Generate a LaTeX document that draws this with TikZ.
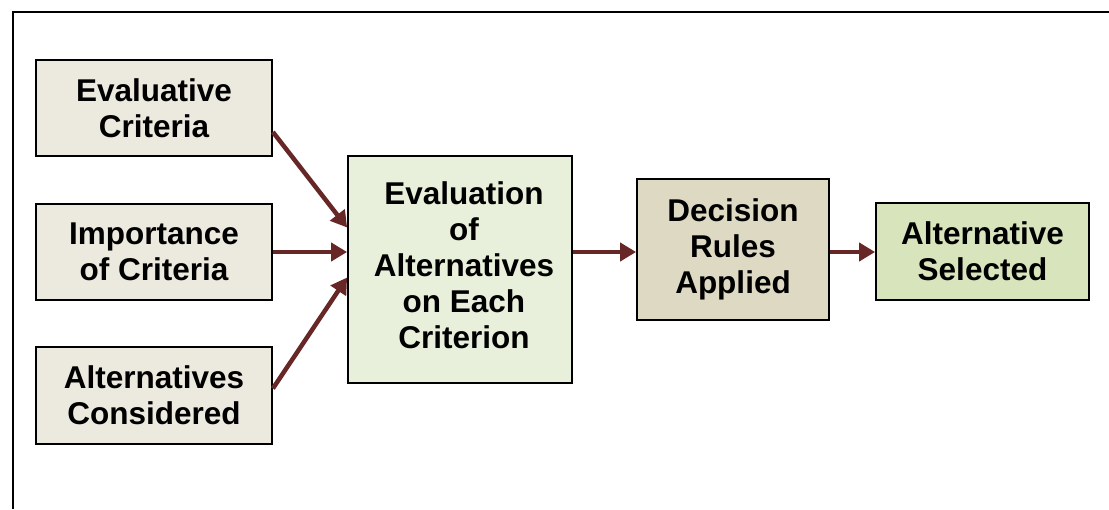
\documentclass[tikz,border=0pt]{standalone}
\usepackage{fontspec}
\setmainfont{Liberation Sans}
\usetikzlibrary{arrows.meta}
\definecolor{inputfill}{HTML}{ECE9DF}
\definecolor{evalfill}{HTML}{E8F0DB}
\definecolor{rulefill}{HTML}{DDD9C3}
\definecolor{selfill}{HTML}{D7E4BC}
\definecolor{flow}{HTML}{672727}
\tikzset{
  box/.style={draw=black, line width=1.8pt, align=center, inner sep=0pt,
    font=\fontsize{31.5}{36}\selectfont\bfseries},
  flowarrow/.style={draw=flow, line width=4.5pt,
    -{Triangle[length=16pt,width=18pt]}}
}
\begin{document}
\begin{tikzpicture}[x=1pt, y=-1pt]
  \useasboundingbox (0,0) rectangle (1109,509);
  % outer frame, open to the right and bottom
  \draw[line width=2pt] (13,509) -- (13,12) -- (1109,12);

  % inputs
  \node[box, fill=inputfill, minimum width=236pt, minimum height=96pt] (ec) at (154,108)
    {Evaluative\\Criteria};
  \node[box, fill=inputfill, minimum width=236pt, minimum height=96pt] (ic) at (154,252)
    {Importance\\of Criteria};
  \node[box, fill=inputfill, minimum width=236pt, minimum height=97pt] (ac) at (154,395.5)
    {Alternatives\\Considered};

  % evaluation, decision, outcome
  \node[box, fill=evalfill, minimum width=224pt, minimum height=227pt] (ev) at (460,269.5)
    {\hspace*{8pt}\raisebox{10pt}{\begin{tabular}{@{}c@{}}Evaluation\\of\\Alternatives\\on Each\\Criterion\end{tabular}}};
  \node[box, fill=rulefill, minimum width=192pt, minimum height=141pt] (dr) at (733,249.5)
    {Decision\\Rules\\Applied};
  \node[box, fill=selfill, minimum width=213pt, minimum height=97pt] (as) at (982.5,251.5)
    {Alternative\\Selected};

  % connectors
  \draw[flowarrow] ([yshift=-24pt]ec.east) -- ([yshift=42pt]ev.west);
  \draw[flowarrow] (ic.east) -- (ic.east -| ev.west);
  \draw[flowarrow] ([yshift=7pt]ac.east) -- ([yshift=-8pt]ev.west);
  \draw[flowarrow] (ev.east |- ic.east) -- (dr.west |- ic.east);
  \draw[flowarrow] (dr.east |- ic.east) -- (as.west |- ic.east);
\end{tikzpicture}
\end{document}
